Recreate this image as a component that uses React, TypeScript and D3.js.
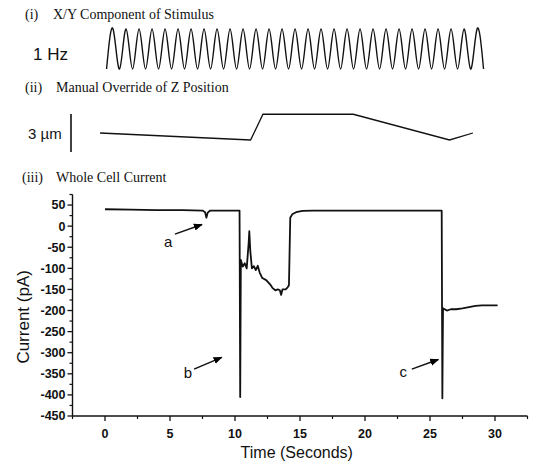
import React from "react";
import * as d3 from "d3";

// ---- data ----
// (i) stimulus: successive extremes of the 1 Hz X/Y drive, one every half second
const stimStartSec = 0.12;
const stimHalfPeriodSec = 0.5;
const stimExtremes = [
  -1, 1, -1, 1, -1, 1, -1, 1, -1, 1, -1, 1, -1, 1, -1, 1, -1, 1, -1, 1,
  -1, 1, -1, 1, -1, 1, -1, 1, -1, 1, -1, 1, -1, 1, -1, 1, -1, 1, -1, 1,
  -1, 1, -1, 1, -1, 1, -1, 1, -1, 1, -1, 1, -1, 1, -1, 1, -1, 1, -1,
];

// (ii) manual Z override (µm, relative to scale bar bottom)
const zTimes = [-0.38, 11.2, 12.15, 19.1, 26.5, 28.3];
const zValues = [1.5, 0.95, 2.98, 2.98, 0.95, 1.5];

// (iii) whole cell current
const currentTimes = [
  0, 2, 4, 6, 7.5, 7.7, 7.8, 7.9, 8.1, 10, 10.35, 10.4, 10.45, 10.6, 10.75, 10.9,
  11.05, 11.1, 11.18, 11.3, 11.45, 11.6, 11.75, 11.9, 12.1, 12.4, 12.7, 12.9, 13.1,
  13.3, 13.45, 13.55, 13.65, 13.9, 14.05, 14.15, 14.25, 14.4, 14.7, 15.2, 16, 20,
  25.9, 25.95, 26.0, 26.3, 26.6, 27, 27.5, 28, 28.5, 29, 29.5, 30.2,
];
const currentValues = [
  40, 39, 38, 38, 37, 33, 20, 32, 37, 37, 37, -405, -80, -96, -88, -100,
  -40, -12, -60, -100, -95, -104, -94, -110, -123, -128, -138, -147, -152,
  -150, -152, -163, -150, -150, -145, -140, 20, 28, 33, 36, 37, 37,
  37, -408, -195, -200, -197, -197, -195, -192, -189, -188, -188, -188,
];

const xTickValues = [0, 5, 10, 15, 20, 25, 30];
const xMinorTicks = [-2.5, 2.5, 7.5, 12.5, 17.5, 22.5, 27.5, 32.5];
const yTickValues = [50, 0, -50, -100, -150, -200, -250, -300, -350, -400, -450];
const yMinorTicks = [75, 25, -25, -75, -125, -175, -225, -275, -325, -375, -425];

const annotations = [
  { label: "a", tx: 4.85, tv: -38, x1: 5.38, v1: -19, x2: 7.46, v2: 4 },
  { label: "b", tx: 6.38, tv: -348, x1: 6.85, v1: -339, x2: 8.98, v2: -311 },
  { label: "c", tx: 22.95, tv: -346, x1: 23.6, v1: -339, x2: 25.64, v2: -316 },
];

const W = 536;
const H = 469;

export default function App() {
  const x = d3.scaleLinear().domain([-2.5, 32.5]).range([72.5, 527.5]);
  const y = d3.scaleLinear().domain([-450, 75]).range([416, 194.5]);
  const yStim = d3.scaleLinear().domain([-1, 1]).range([69, 29]);
  const yZ = d3.scaleLinear().domain([0, 3]).range([152, 114]);

  const stimPts: [number, number][] = stimExtremes.map((v, i) => [
    x(stimStartSec + i * stimHalfPeriodSec),
    yStim(v),
  ]);
  const stimPath = d3.line().curve(d3.curveNatural)(stimPts) || "";

  const zPath =
    d3.line<number>()
      .x((_, i) => x(zTimes[i]))
      .y((d) => yZ(d))(zValues) || "";

  const curPath =
    d3.line<number>()
      .x((_, i) => x(currentTimes[i]))
      .y((d) => y(d))(currentValues) || "";

  const sans = "'Liberation Sans', Arial, sans-serif";
  const serif = "'Liberation Serif', 'Times New Roman', serif";
  const axisY = y(-450);
  const axisX = x(-2.5);
  const ink = "#111";

  return (
    <svg
      width={W}
      height={H}
      style={{ position: "absolute", left: 0, top: 0, background: "#fff" }}
    >
      <defs>
        <marker
          id="arr"
          viewBox="0 0 10 10"
          refX="9"
          refY="5"
          markerWidth="6"
          markerHeight="6"
          orient="auto"
        >
          <path d="M0,1 L10,5 L0,9 z" fill="#000" />
        </marker>
      </defs>

      {/* titles */}
      <text x={25} y={19} fontFamily={serif} fontSize={14} fill={ink}>
        (i)
      </text>
      <text x={53} y={19} fontFamily={serif} fontSize={14} fill={ink}>
        X/Y Component of Stimulus
      </text>
      <text x={25} y={92} fontFamily={serif} fontSize={14} fill={ink}>
        (ii)
      </text>
      <text x={56} y={92} fontFamily={serif} fontSize={14} fill={ink}>
        Manual Override of Z Position
      </text>
      <text x={22} y={182} fontFamily={serif} fontSize={14} fill={ink}>
        (iii)
      </text>
      <text x={56} y={182} fontFamily={serif} fontSize={14} fill={ink}>
        Whole Cell Current
      </text>

      {/* (i) stimulus */}
      <text x={33} y={60} fontFamily={sans} fontSize={17} fill={ink}>
        1 Hz
      </text>
      <path d={stimPath} fill="none" stroke={ink} strokeWidth={1.4} />

      {/* (ii) Z position */}
      <text x={28} y={139} fontFamily={sans} fontSize={15} fill={ink}>
        3 µm
      </text>
      <line x1={71} x2={71} y1={yZ(0)} y2={yZ(3)} stroke={ink} strokeWidth={1.6} />
      <path d={zPath} fill="none" stroke={ink} strokeWidth={1.3} />

      {/* (iii) axes */}
      <line x1={axisX} x2={axisX} y1={y(75)} y2={axisY} stroke={ink} strokeWidth={1.4} />
      <line x1={axisX} x2={x(32.5)} y1={axisY} y2={axisY} stroke={ink} strokeWidth={1.4} />
      {yTickValues.map((v) => (
        <g key={"yt" + v}>
          <line x1={axisX - 5} x2={axisX} y1={y(v)} y2={y(v)} stroke={ink} strokeWidth={1.3} />
          <text
            x={axisX - 7}
            y={y(v)}
            dy="0.35em"
            textAnchor="end"
            fontFamily={sans}
            fontWeight="bold"
            fontSize={12.5}
            fill={ink}
          >
            {v}
          </text>
        </g>
      ))}
      {yMinorTicks.map((v) => (
        <line key={"ym" + v} x1={axisX - 3} x2={axisX} y1={y(v)} y2={y(v)} stroke={ink} strokeWidth={1.2} />
      ))}
      {xTickValues.map((t) => (
        <g key={"xt" + t}>
          <line x1={x(t)} x2={x(t)} y1={axisY} y2={axisY + 5} stroke={ink} strokeWidth={1.3} />
          <text
            x={x(t)}
            y={axisY + 22}
            textAnchor="middle"
            fontFamily={sans}
            fontWeight="bold"
            fontSize={12.5}
            fill={ink}
          >
            {t}
          </text>
        </g>
      ))}
      {xMinorTicks.map((t) => (
        <line key={"xm" + t} x1={x(t)} x2={x(t)} y1={axisY} y2={axisY + 3} stroke={ink} strokeWidth={1.2} />
      ))}

      <text
        transform={`translate(29,${y(-215)}) rotate(-90)`}
        textAnchor="middle"
        fontFamily={sans}
        fontSize={17}
        fill={ink}
      >
        Current (pA)
      </text>
      <text x={x(14.75)} y={458} textAnchor="middle" fontFamily={sans} fontSize={16} fill={ink}>
        Time (Seconds)
      </text>

      {/* trace */}
      <path d={curPath} fill="none" stroke={ink} strokeWidth={1.8} strokeLinejoin="round" />

      {/* annotations */}
      {annotations.map((a) => (
        <g key={a.label}>
          <text
            x={x(a.tx)}
            y={y(a.tv)}
            dy="0.35em"
            textAnchor="middle"
            fontFamily={sans}
            fontSize={15}
            fill={ink}
          >
            {a.label}
          </text>
          <line
            x1={x(a.x1)}
            y1={y(a.v1)}
            x2={x(a.x2)}
            y2={y(a.v2)}
            stroke={ink}
            strokeWidth={1.5}
            markerEnd="url(#arr)"
          />
        </g>
      ))}
    </svg>
  );
}
